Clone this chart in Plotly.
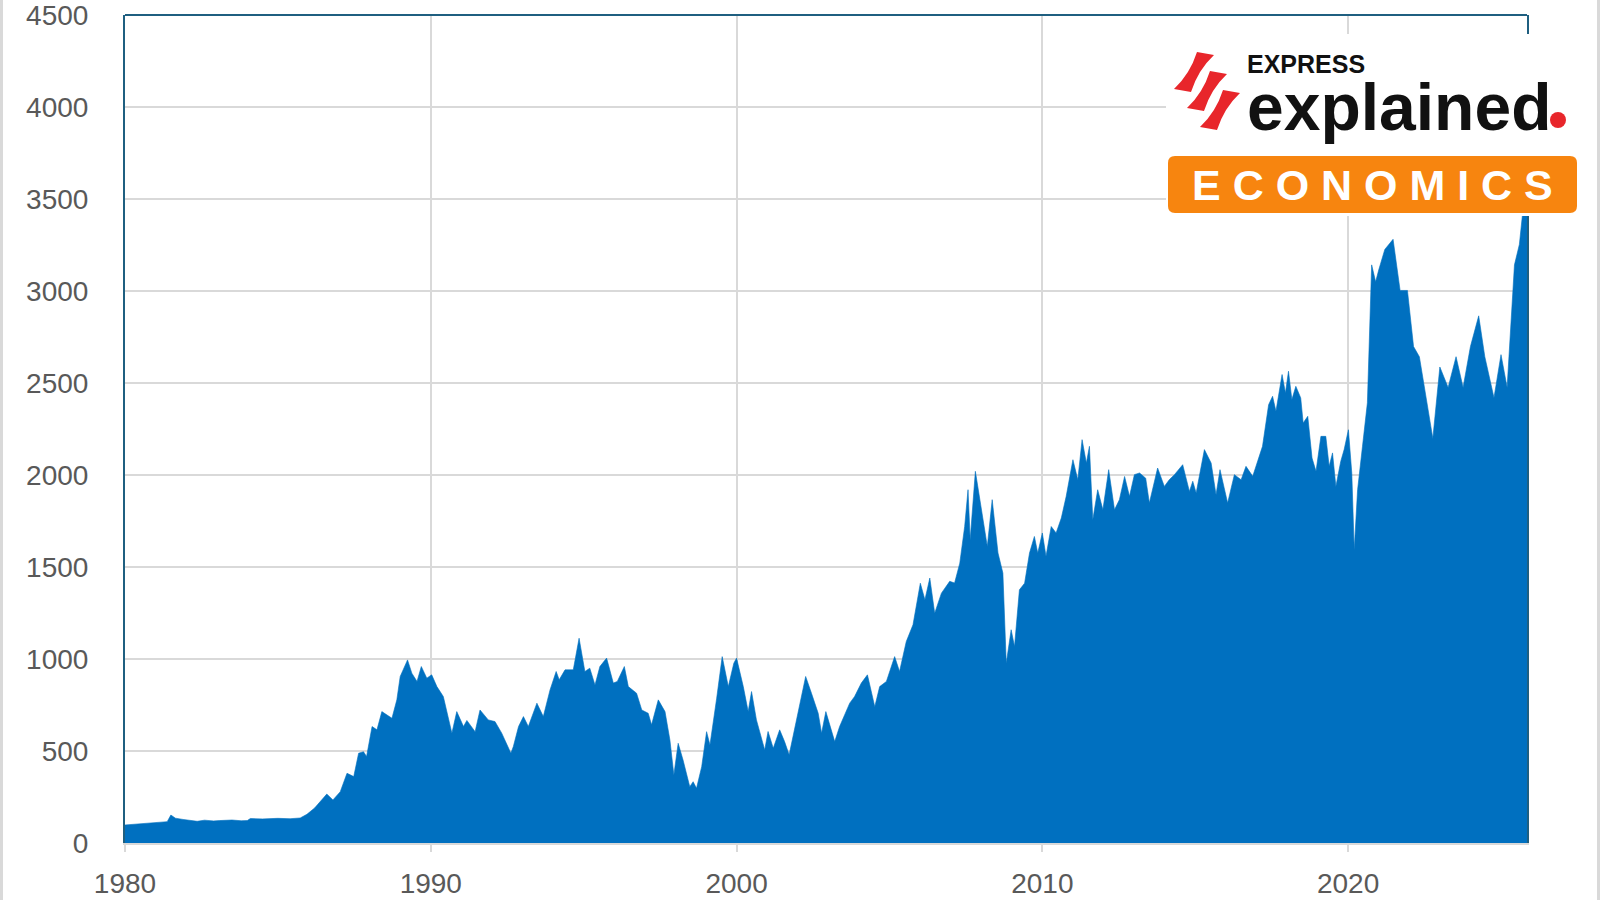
import plotly.graph_objects as go

# ---------------- data ----------------
years = [
    1980.00, 1981.38, 1981.50, 1981.65, 1981.90, 1982.10, 1982.36, 1982.60, 1982.90, 1983.10,
    1983.50, 1983.80, 1984.00, 1984.10, 1984.50, 1985.00, 1985.40, 1985.73, 1985.95, 1986.20,
    1986.39, 1986.60, 1986.80, 1987.04, 1987.26, 1987.48, 1987.64, 1987.80, 1987.90, 1988.08,
    1988.24, 1988.40, 1988.73, 1988.89, 1989.00, 1989.24, 1989.38, 1989.55, 1989.69, 1989.87,
    1990.03, 1990.20, 1990.41, 1990.69, 1990.85, 1991.07, 1991.18, 1991.45, 1991.61, 1991.88,
    1992.10, 1992.32, 1992.62, 1992.70, 1992.87, 1993.03, 1993.19, 1993.47, 1993.68, 1993.90,
    1994.10, 1994.20, 1994.39, 1994.66, 1994.85, 1995.04, 1995.20, 1995.37, 1995.53, 1995.75,
    1995.97, 1996.10, 1996.33, 1996.46, 1996.73, 1996.90, 1997.11, 1997.22, 1997.44, 1997.66,
    1997.82, 1997.95, 1998.09, 1998.25, 1998.47, 1998.58, 1998.69, 1998.86, 1999.02, 1999.13,
    1999.35, 1999.53, 1999.73, 1999.91, 2000.00, 2000.22, 2000.38, 2000.49, 2000.65, 2000.76,
    2000.92, 2001.03, 2001.20, 2001.41, 2001.57, 2001.72, 2001.96, 2002.26, 2002.45, 2002.67,
    2002.78, 2002.92, 2003.21, 2003.37, 2003.70, 2003.86, 2004.08, 2004.28, 2004.52, 2004.68,
    2004.90, 2005.17, 2005.33, 2005.55, 2005.77, 2006.01, 2006.16, 2006.32, 2006.48, 2006.70,
    2006.97, 2007.13, 2007.30, 2007.46, 2007.57, 2007.64, 2007.81, 2007.95, 2008.11, 2008.20,
    2008.36, 2008.55, 2008.71, 2008.82, 2008.98, 2009.09, 2009.25, 2009.42, 2009.58, 2009.74,
    2009.85, 2010.00, 2010.12, 2010.29, 2010.45, 2010.62, 2010.78, 2011.00, 2011.16, 2011.30,
    2011.44, 2011.54, 2011.65, 2011.81, 2011.98, 2012.17, 2012.36, 2012.52, 2012.69, 2012.85,
    2013.01, 2013.18, 2013.38, 2013.50, 2013.77, 2013.99, 2014.15, 2014.32, 2014.59, 2014.81,
    2014.92, 2015.03, 2015.30, 2015.52, 2015.68, 2015.81, 2016.06, 2016.28, 2016.50, 2016.66,
    2016.88, 2017.04, 2017.20, 2017.40, 2017.53, 2017.64, 2017.84, 2017.95, 2018.05, 2018.16,
    2018.29, 2018.45, 2018.53, 2018.68, 2018.82, 2018.95, 2019.11, 2019.27, 2019.38, 2019.49,
    2019.60, 2019.76, 2019.87, 2020.01, 2020.12, 2020.20, 2020.31, 2020.47, 2020.63, 2020.77,
    2020.90, 2021.00, 2021.20, 2021.47, 2021.70, 2021.94, 2022.14, 2022.33, 2022.60, 2022.77,
    2023.00, 2023.27, 2023.53, 2023.76, 2024.00, 2024.27, 2024.47, 2024.77, 2025.00, 2025.20,
    2025.44, 2025.60, 2025.74, 2025.85,
]
values = [
    98, 116, 152, 135, 128, 125, 118, 124, 120, 122,
    125, 121, 122, 133, 131, 134, 132, 136, 156, 190,
    225, 266, 234, 279, 379, 361, 488, 496, 470, 633,
    615, 714, 678, 778, 905, 995, 923, 878, 959, 896,
    914, 850, 796, 597, 714, 633, 666, 605, 723, 669,
    660, 597, 488, 524, 633, 687, 633, 760, 687, 832,
    932, 887, 941, 941, 1113, 932, 950, 859, 959, 1005,
    869, 878, 959, 850, 814, 723, 705, 642, 778, 714,
    560, 370, 542, 451, 306, 333, 297, 415, 605, 533,
    787, 1013, 850, 977, 1005, 850, 714, 823, 669, 597,
    506, 606, 515, 615, 551, 479, 669, 905, 814, 705,
    597, 714, 551, 633, 760, 796, 869, 914, 741, 850,
    878, 1013, 932, 1095, 1186, 1412, 1322, 1440, 1249, 1358,
    1422, 1413, 1521, 1720, 1920, 1648, 2020, 1866, 1685, 1612,
    1866, 1576, 1467, 977, 1159, 1068, 1376, 1412, 1576, 1666,
    1576, 1685, 1558, 1720, 1685, 1766, 1884, 2083, 1974, 2192,
    2065, 2156, 1757, 1920, 1811, 2029, 1811, 1866, 1992, 1884,
    2002, 2011, 1983, 1848, 2038, 1938, 1974, 2002, 2056, 1911,
    1966, 1902, 2138, 2065, 1893, 2029, 1848, 2002, 1974, 2047,
    1993, 2075, 2156, 2382, 2428, 2346, 2546, 2446, 2564, 2410,
    2482, 2419, 2283, 2319, 2092, 2020, 2210, 2210, 2047, 2120,
    1938, 2075, 2138, 2246, 2011, 1594, 1920, 2156, 2392, 3142,
    3050, 3114, 3226, 3281, 3003, 3003, 2698, 2643, 2365, 2199,
    2587, 2476, 2643, 2476, 2698, 2865, 2643, 2420, 2654, 2476,
    3142, 3253, 3475, 3900,
]
x_tick_vals = [1980, 1990, 2000, 2010, 2020]
x_tick_text = ["1980", "1990", "2000", "2010", "2020"]
y_tick_vals = [0, 500, 1000, 1500, 2000, 2500, 3000, 3500, 4000, 4500]
y_tick_text = ["0", "500", "1000", "1500", "2000", "2500", "3000", "3500", "4000", "4500"]

# ---------------- layout geometry ----------------
W, H = 1600, 900
ML, MR, MT, MB = 125, 73, 15, 57
PW, PH = W - ML - MR, H - MT - MB


def px(X):
    return (X - ML) / PW


def py(Y):
    return (H - MB - Y) / PH


BLUE = "#0070C0"
GRID = "#D9D9D9"
FRAME = "#1F5F80"
TXT = "#595959"
FONT = "Liberation Sans, Arial, sans-serif"
RED = "#E8262B"

fig = go.Figure(
    go.Scatter(
        x=years, y=values, mode="lines", fill="tozeroy",
        line=dict(color=BLUE, width=0.6), fillcolor=BLUE,
        hoverinfo="skip", showlegend=False,
    )
)

shapes = []
# top frame line of the plot area
shapes.append(dict(type="line", xref="paper", yref="paper", x0=0, x1=1, y0=1, y1=1,
                   line=dict(color=FRAME, width=2), layer="above"))
# light grey page edges
shapes.append(dict(type="rect", xref="paper", yref="paper", x0=px(0), x1=px(3), y0=py(900), y1=py(0),
                   fillcolor=GRID, line=dict(width=0), layer="above"))
shapes.append(dict(type="rect", xref="paper", yref="paper", x0=px(1597), x1=px(1600), y0=py(900), y1=py(0),
                   fillcolor=GRID, line=dict(width=0), layer="above"))
# white logo background
shapes.append(dict(type="rect", xref="paper", yref="paper", x0=px(1166), x1=px(1582), y0=py(216), y1=py(34),
                   fillcolor="white", line=dict(width=0), layer="above"))


def P(X, Y):
    return f"{px(X):.5f},{py(Y):.5f}"


# red stripes icon (three thick curved bands)
for i in range(3):
    ox, oy = 13 * i, 19 * i
    tx, ty = 1204 + ox, 52 + oy      # top centre of band
    bx, by = 1184 + ox, 92 + oy      # bottom centre of band
    hw = 10
    path = (f"M {P(tx - hw + 3, ty)} L {P(tx + hw, ty + 3)} "
            f"Q {P((tx + bx) / 2 + hw - 6, (ty + by) / 2 - 2)} {P(bx + hw - 3, by)} "
            f"L {P(bx - hw, by - 3)} "
            f"Q {P((tx + bx) / 2 - hw + 6, (ty + by) / 2 + 2)} {P(tx - hw + 3, ty)} Z")
    shapes.append(dict(type="path", xref="paper", yref="paper", path=path,
                       fillcolor=RED, line=dict(width=0), layer="above"))

# red dot
shapes.append(dict(type="circle", xref="paper", yref="paper",
                   x0=px(1550), x1=px(1566), y0=py(128), y1=py(112),
                   fillcolor=RED, line=dict(width=0), layer="above"))

# orange rounded box
x0, x1, y0, y1, r = 1168, 1577, 156, 213, 7
path = (f"M {P(x0 + r, y0)} L {P(x1 - r, y0)} Q {P(x1, y0)} {P(x1, y0 + r)} "
        f"L {P(x1, y1 - r)} Q {P(x1, y1)} {P(x1 - r, y1)} "
        f"L {P(x0 + r, y1)} Q {P(x0, y1)} {P(x0, y1 - r)} "
        f"L {P(x0, y0 + r)} Q {P(x0, y0)} {P(x0 + r, y0)} Z")
shapes.append(dict(type="path", xref="paper", yref="paper", path=path,
                   fillcolor="#F7850F", line=dict(width=0), layer="above"))

annotations = [
    dict(text="<b>EXPRESS</b>", xref="paper", yref="paper", x=px(1245), y=py(64),
         xanchor="left", yanchor="middle", showarrow=False,
         font=dict(family=FONT, size=25, color="#111111")),
    dict(text="<b>explained</b>", xref="paper", yref="paper", x=px(1245), y=py(107),
         xanchor="left", yanchor="middle", showarrow=False,
         font=dict(family=FONT, size=66, color="#111111")),
    dict(text="<b>E C O N O M I C S</b>", xref="paper", yref="paper",
         x=px(1372), y=py(185), xanchor="center", yanchor="middle", showarrow=False,
         font=dict(family=FONT, size=43, color="white")),
]

fig.update_layout(
    width=W, height=H,
    margin=dict(l=ML, r=MR, t=MT, b=MB, autoexpand=False),
    paper_bgcolor="white", plot_bgcolor="white",
    font=dict(family=FONT, color=TXT),
    xaxis=dict(
        range=[1980, 2025.85], tickmode="array", tickvals=x_tick_vals, ticktext=x_tick_text,
        showgrid=True, gridcolor=GRID, gridwidth=2, zeroline=False,
        showline=True, linecolor=GRID, linewidth=2,
        ticks="outside", ticklen=7, tickwidth=2, tickcolor=GRID,
        ticklabelstandoff=7, automargin=False, ticklabeloverflow="allow",
        tickfont=dict(family=FONT, size=28, color=TXT),
    ),
    yaxis=dict(
        range=[0, 4500], tickmode="array", tickvals=y_tick_vals, ticktext=y_tick_text,
        showgrid=True, gridcolor=GRID, gridwidth=2, zeroline=False,
        showline=True, mirror=True, linecolor=FRAME, linewidth=2,
        ticks="", ticklabelstandoff=29, automargin=False, ticklabeloverflow="allow",
        tickfont=dict(family=FONT, size=28, color=TXT),
    ),
    shapes=shapes,
    annotations=annotations,
)

fig.write_html("out.html")
